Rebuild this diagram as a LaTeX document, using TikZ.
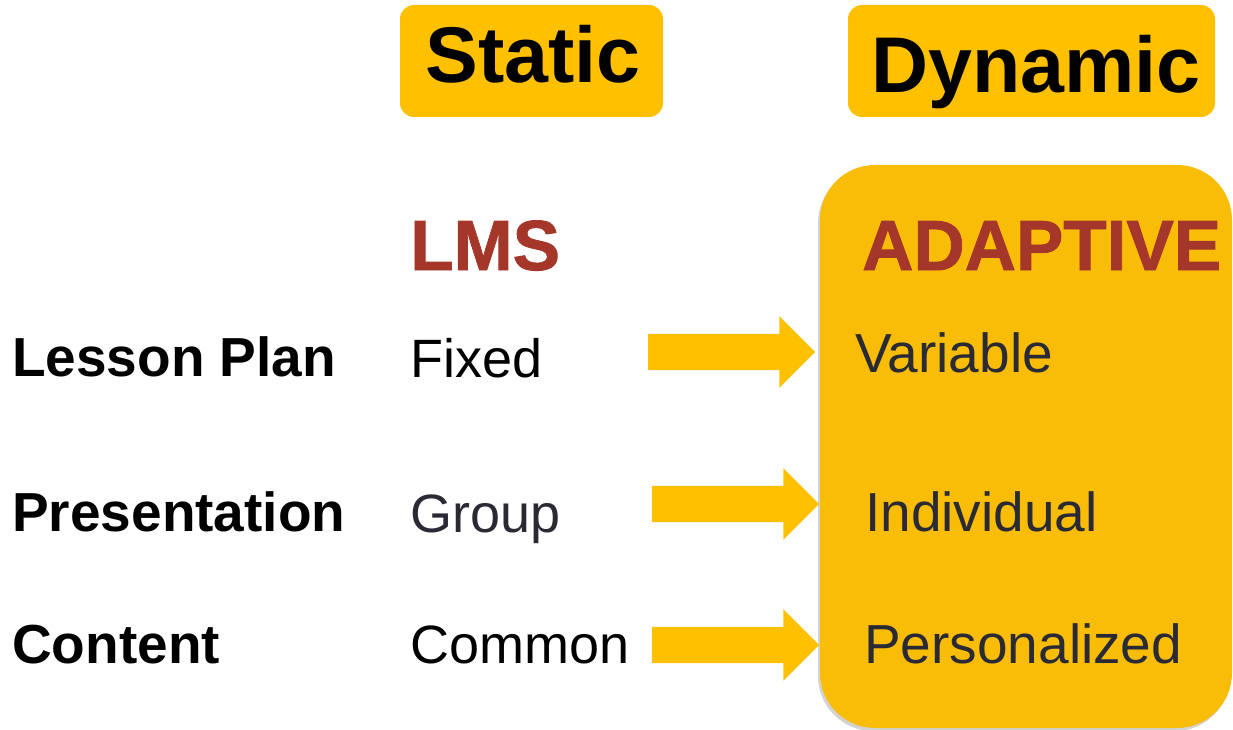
\documentclass[tikz,border=0pt]{standalone}
\usepackage{fontspec}
\setmainfont{Liberation Sans}
\usetikzlibrary{shapes.arrows, shadows, positioning}

\definecolor{gold}{HTML}{FFC000}
\definecolor{boxgold}{HTML}{F9BD08}
\definecolor{rust}{HTML}{A5372A}
\definecolor{ink}{HTML}{2A2A35}

\tikzset{
  titlebox/.style={rectangle,fill=gold,rounded corners=14pt,inner sep=0pt},
  titletext/.style={anchor=base,inner sep=0pt,font=\fontsize{79}{84}\selectfont\bfseries},
  rowlabel/.style={anchor=base west,inner sep=0pt,font=\fontsize{55}{60}\selectfont\bfseries},
  value/.style={anchor=base west,inner sep=0pt,text=ink,font=\fontsize{54}{60}\selectfont},
  kind/.style={anchor=base west,inner sep=0pt,text=rust,
    font=\fontsize{71}{75}\selectfont\bfseries\addfontfeatures{FakeBold=1.2}},
  blockarrow/.style={single arrow,fill=gold,minimum width=71pt,minimum height=167pt,
    single arrow head extend=17.5pt,single arrow tip angle=90,
    inner xsep=0pt,inner ysep=18pt,outer sep=0pt,anchor=tail}
}

\begin{document}
\begin{tikzpicture}[x=1pt,y=-1pt]
    \useasboundingbox (0,0) rectangle (1233,730);

    % Titoli
    \node[titlebox,minimum width=263pt,minimum height=112pt] (static) at (531.5,61) {};
    \node[titletext] (statictxt) at (533,83) {Static};
    \node[titlebox,minimum width=367pt,minimum height=112pt] (dynamic) at (1031.5,61) {};
    \node[titletext] (dynamictxt) at (1036,93) {Dynamic};

    % Riquadro adattivo
    \node[rectangle,fill=boxgold,rounded corners=55pt,minimum width=412pt,minimum height=563pt,
      drop shadow={opacity=0.35,shadow xshift=-2pt,shadow yshift=-3pt}] (adaptbox) at (1026,446.5) {};

    \node[kind] (lms) at (410,270) {LMS};
    \node[kind] (adaptive) at (862,270) {ADAPTIVE};

    % Righe
    \node[rowlabel] (plan) at (12,376) {Lesson Plan};
    \node[rowlabel] (pres) at (12,531) {Presentation};
    \node[rowlabel] (cont) at (12,663) {Content};

    \node[value,text=black] (fixed) at (410,377) {Fixed};
    \node[value] (group) at (410,532) {Group};
    \node[value,text=black] (common) at (410,663) {Common};

    \node[value,font=\fontsize{55}{60}\selectfont] (variable) at (855,372) {Variable};
    \node[value,font=\fontsize{55}{60}\selectfont] (individual) at (865,531) {Individual};
    \node[value,font=\fontsize{55}{60}\selectfont] (personal) at (864,663) {Personalized};

    % Frecce
    \node[blockarrow] (arr1) at (648,352) {};
    \node[blockarrow] (arr2) at (652,504) {};
    \node[blockarrow] (arr3) at (652,645) {};
\end{tikzpicture}
\end{document}
